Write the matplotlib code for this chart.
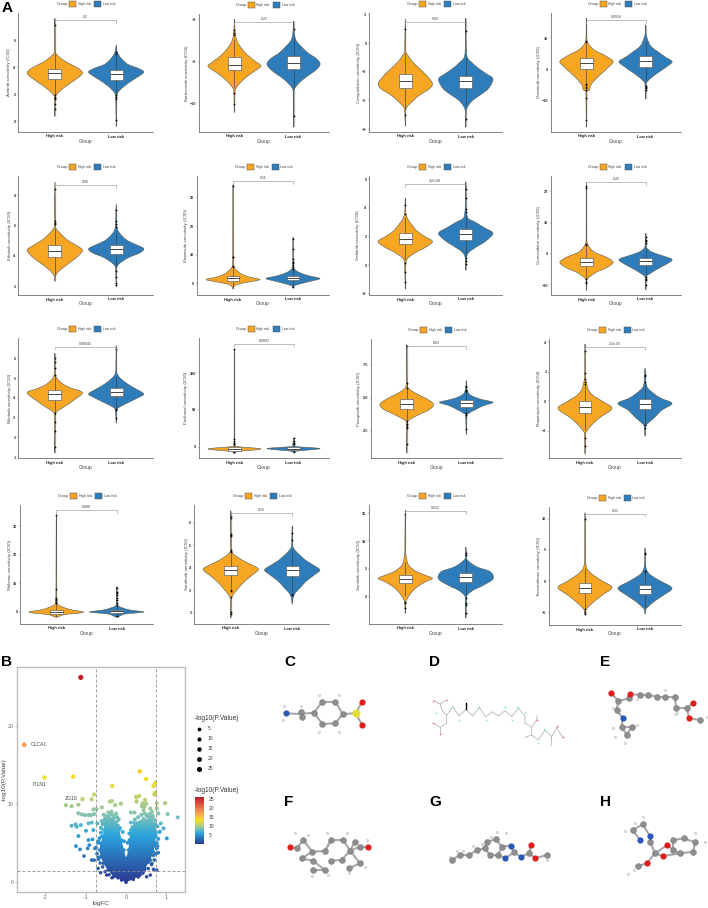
import numpy as np
import matplotlib
matplotlib.use("Agg")
import matplotlib.pyplot as plt
from matplotlib.colors import LinearSegmentedColormap
from matplotlib.patches import Polygon, Rectangle
from matplotlib.path import Path
from matplotlib.patches import PathPatch

plt.rcParams["font.family"] = ["Liberation Sans", "DejaVu Sans"]

W, H = 708, 908
ORANGE = "#F6A623"
BLUE = "#2E7CB9"

# ---- panel A data ----
drugs = ["Axitinib", "Bortezomib", "Camptothecin", "Dasatinib",
         "Erlotinib", "Etoposide", "Gefitinib", "Gemcitabine",
         "Nilotinib", "Paclitaxel", "Pazopanib", "Rapamycin",
         "Shikonin", "Sorafenib", "Sunitinib", "Temsirolimus"]
p_labels = ["0.2", "0.21", "0.99", "0.0016", "0.06", "0.11", "4.2e-06", "0.26",
            "0.00043", "0.0083", "0.03", "2.1e-05", "0.088", "0.15", "0.032", "0.31"]
y_ticks = [[0, 2, 4, 6], [-10, -6, -2], [-9, -6, -3, 0, 3], [-10, 0, 10],
           [2, 4, 6, 8], [0, 10, 20, 30], [-2, 0, 2, 4, 6], [-10, 0, 10, 20],
           [1, 2, 3, 4, 5, 6], [0, 50, 100], [2.5, 5.0, 7.5], [-2, 0, 2, 4],
           [0, 10, 20, 30], [2, 3, 4, 5, 6], [0, 5, 10, 15], [-5, 0, 5, 10]]
y_lims = [(-0.81, 8.0), (-12.65, -1.5), (-9.3, 3.14), (-19.9, 18.1),
          (1.43, 9.27), (-4.2, 37.6), (-2.09, 6.23), (-13.2, 24.9),
          (0.95, 7.04), (-15.5, 148), (0.41, 9.46), (-3.84, 4.23),
          (-4.3, 37.5), (1.51, 6.78), (-4.9, 16.5), (-7.0, 11.85)]
bracket_y = [7.45, -2.3, 2.23, 15.85, 8.65, 35.7, 5.65, 22.9,
             6.6, 140, 8.9, 3.68, 35.6, 6.43, 15.4, 10.8]

high_box = [(3.11, 3.58, 3.88), (-6.75, -6.3, -5.6), (-4.7, -4.0, -3.25), (0.3, 2.1, 3.6),
            (3.93, 4.3, 4.7), (0.8, 1.6, 2.45), (1.47, 1.8, 2.23), (-4.0, -2.55, -1.4),
            (3.9, 4.2, 4.4), (-6, -3.2, -0.5), (4.1, 4.5, 4.87), (-0.77, -0.41, 0.0),
            (-0.7, 0.0, 0.7), (3.68, 3.9, 4.07), (2.45, 3.23, 3.95), (-1.9, -1.06, -0.3)]
low_box = [(3.06, 3.45, 3.75), (-6.7, -6.1, -5.5), (-4.67, -3.95, -3.4), (1.0, 2.65, 4.25),
           (4.12, 4.47, 4.7), (1.15, 1.9, 2.6), (1.75, 2.14, 2.5), (-3.6, -2.34, -1.4),
           (4.1, 4.3, 4.5), (-5, -2.7, -0.5), (4.3, 4.62, 4.85), (-0.5, -0.18, 0.18),
           (-0.5, 0.1, 0.5), (3.62, 3.91, 4.09), (2.6, 3.5, 4.3), (-2.0, -1.2, -0.6)]

high_y = [[.35, 1.7, 2.0, 2.5, 3.0, 3.35, 3.6, 3.9, 4.3, 4.6, 5.0, 5.4, 7.6],
          [-10.8, -9, -8.5, -7.8, -7.2, -6.8, -6.4, -6, -5.4, -4.8, -4.2, -3.65, -3, -2],
          [-8.65, -7.2, -6.7, -6, -5.4, -4.8, -4.25, -3.6, -3, -2.4, -1.8, -1.3, -.9, 2.55],
          [-18.3, -7, -6.4, -5, -3, -1, 1, 2.65, 4.5, 6, 7.4, 9.5, 16.5],
          [2.33, 2.7, 3.0, 3.4, 3.8, 4.1, 4.4, 4.7, 5, 5.3, 5.8, 6.2, 8.9],
          [-2.1, -1.5, -.5, .3, 1.2, 2, 3, 4, 5, 5.8, 8, 34.6],
          [-1.67, .1, .5, .9, 1.25, 1.65, 2, 2.4, 2.8, 3.2, 3.65, 4.67],
          [-11.7, -8.5, -7.8, -6, -4.5, -2.7, -1, .5, 2, 3.4, 5, 22.9],
          [1.2, 3.1, 3.3, 3.6, 3.9, 4.27, 4.5, 4.7, 4.95, 5.15, 5.5, 6.27],
          [-8.7, -6.5, -3.2, 0, 2, 10, 133],
          [.8, 3.1, 3.3, 3.7, 4.1, 4.5, 4.9, 5.2, 5.5, 5.75, 6.2, 9.03],
          [-3.55, -2.2, -2, -1.6, -1.1, -.48, 0, .4, .8, 1.15, 1.6, 3.9],
          [-1.9, -1, -.2, .8, 2, 3, 8, 34],
          [1.78, 2.6, 2.8, 3.1, 3.4, 3.7, 3.94, 4.15, 4.35, 4.65, 5, 6.53],
          [-3, -.8, -.5, .5, 1.7, 2.7, 3.3, 3.9, 4.6, 5.7, 7.1, 8, 15.6],
          [-5.35, -4.6, -4.3, -3.2, -2.2, -1, 0, 1, 1.8, 2.6, 3.5, 10.95]]
high_w = [[0, .02, .07, .35, .7, .93, 1, .85, .48, .25, .04, .015, 0],
          [0, .02, .06, .3, .58, .82, 1, .8, .5, .28, .12, .05, .02, 0],
          [0, .015, .06, .3, .55, .88, 1, .85, .65, .42, .22, .1, .02, 0],
          [0, .02, .12, .16, .35, .6, .85, 1, .7, .35, .15, .02, 0],
          [0, .03, .15, .42, .72, .9, 1, .78, .5, .3, .05, .02, 0],
          [0, .02, .15, .55, 1, .65, .35, .2, .08, .03, .01, 0],
          [0, .02, .1, .4, .75, 1, .72, .42, .25, .1, .02, 0],
          [0, .015, .06, .35, .75, 1, .72, .3, .12, .03, .01, 0],
          [0, .02, .07, .4, .7, 1, .58, .3, .1, .03, .01, 0],
          [0, .15, 1, .12, .03, .01, 0],
          [0, .02, .08, .45, .85, 1, .75, .45, .2, .05, .015, 0],
          [0, .02, .07, .25, .55, 1, .65, .3, .12, .07, .015, 0],
          [0, .3, 1, .5, .15, .03, .01, 0],
          [0, .02, .08, .28, .5, .8, 1, .72, .4, .06, .015, 0],
          [0, .02, .06, .18, .42, .75, 1, .72, .38, .12, .04, .015, 0],
          [0, .03, .08, .35, .65, 1, .65, .3, .1, .03, .01, 0]]
low_y = [[-.4, 1.6, 2.1, 2.6, 3.1, 3.4, 3.65, 3.9, 4.2, 4.6, 5.0, 5.3, 5.6],
         [-12.2, -9, -8.5, -7.8, -7.2, -6.7, -6.2, -5.7, -5.2, -4.6, -4.1, -3.65, -3, -2.15],
         [-8.8, -7.2, -6.7, -6, -5.3, -4.7, -3.75, -3.2, -2.6, -2.1, -1.45, 0, 2.6],
         [-9.4, -4.5, -3.7, -2, -.5, 1, 2.55, 4, 5.5, 7.5, 9.8, 11.5, 14.4],
         [2, 3.2, 3.5, 3.9, 4.2, 4.47, 4.7, 5, 5.3, 5.6, 5.9, 6.3, 7.42],
         [-1.75, -1, -.2, .7, 1.6, 2.5, 3.5, 4.5, 5.3, 7, 16.1],
         [-.37, .5, .9, 1.3, 1.7, 2.23, 2.6, 3, 3.3, 4, 5.84],
         [-11.5, -7.5, -6.9, -5, -3.5, -1.9, -.8, .5, 1.8, 3, 6.6],
         [2.73, 3.3, 3.5, 3.75, 4, 4.2, 4.45, 4.7, 5, 5.25, 5.6, 6.65],
         [-8, -6, -2.7, 0, 2, 12],
         [2.2, 3.6, 3.8, 4.1, 4.4, 4.64, 4.85, 5.05, 5.3, 5.7, 6.3],
         [-2.36, -1.7, -1.5, -1.1, -.6, -.14, .2, .5, .9, 1.3, 1.6, 2.25],
         [-1.9, -.8, -.1, .6, 1.4, 2.2, 4, 8.9],
         [2.41, 2.66, 2.9, 3.1, 3.4, 3.7, 3.91, 4.15, 4.4, 4.87, 5.3, 5.86],
         [-3.8, -.2, .35, 1.2, 2, 3.2, 4.5, 5.4, 6.65, 7.5, 8.9],
         [-5.2, -4.6, -4.3, -3.2, -2.2, -1.1, 0, 1, 1.8, 3, 5.35]]
low_w = [[0, .015, .06, .3, .65, .88, 1, .8, .42, .2, .06, .02, 0],
         [0, .015, .05, .3, .62, .88, 1, .85, .55, .3, .12, .05, .015, 0],
         [0, .015, .06, .25, .6, .85, 1, .75, .45, .25, .05, .01, 0],
         [0, .02, .07, .3, .55, .8, 1, .75, .5, .2, .07, .015, 0],
         [0, .02, .12, .45, .85, 1, .78, .42, .22, .09, .03, .02, 0],
         [0, .05, .3, .68, 1, .6, .28, .1, .03, .01, 0],
         [0, .02, .12, .42, .75, 1, .7, .35, .08, .02, 0],
         [0, .015, .07, .42, .75, 1, .7, .25, .05, .015, 0],
         [0, .02, .08, .42, .78, 1, .72, .42, .15, .03, .01, 0],
         [0, .15, 1, .12, .03, 0],
         [0, .02, .08, .35, .65, 1, .6, .3, .1, .02, 0],
         [0, .03, .1, .35, .62, 1, .6, .35, .1, .03, .03, 0],
         [0, .3, 1, .5, .2, .03, .01, 0],
         [0, .03, .12, .28, .5, .82, 1, .72, .42, .05, .015, 0],
         [0, .02, .06, .28, .62, 1, .9, .4, .05, .02, 0],
         [0, .02, .06, .35, .7, 1, .58, .2, .06, .015, 0]]

high_out = [[7.1, 1.9, 1.8, 1.7, 1.6, 1.25, .9], [-3.0, -3.3, -3.5, -9.0, -10.0], [1.5, -7.5],
            [9.2, 8.8, -4.7, -5, -5.5, -6, -6.4, -9, -16], [8.4, 6.3, 6.2, 6.1],
            [34.2, 9.3, 9, 6, 5.5], [4.2, 3.6, .15, -.5, -1.2], [21.8, 21, 3.2, 2.8, -8, -9, -9.5],
            [6.0, 5.8, 5.5, 5.15, 3.25, 2.8, 2.3, 1.5], [133, 10, 7, 5, 3, -8],
            [8.9, 6.1, 5.7, 3.2, 3, 2.9, 2.8, 2.7, 1.5], [3.4, 1.9, 1.5, 1.3, 1.2, -2.5, -3],
            [34, 8, 5, 4.5, 4, 3.5, 3], [6.3, 6.2, 5.5, 5.45, 5.4, 4.8, 4.75, 4.7, 3, 2.95, 2.7, 2.05, 1.95],
            [14.8, -1, -1.2, -2], [10, -4.5, -5, -5.2]]
low_out = [[5.1, 4.95, 1.9, 1.75, 1.6, .1], [-2.9, -11.1], [1.3, -7.9], [-5.2, -5.6, -6, -6.4],
           [7.0, 6.3, 6.1, 5.9, 3.0, 2.6, 2.2, 2.1], [15.3, 11.8, 8.5, 7.5, 7, 6.3, 5.5, 5, -1.3],
           [5.3, 4.7, 3.9, 3.7, .5, .3, .1], [5.3, 4.5, 4, 3.6, -7.3, -8, -8.5, -10],
           [6.5, 3.45, 3.4, 3], [12, 8, 5, 3, -7], [5.9, 5.8, 5.6, 5.5, 3.8, 3.7, 2.6],
           [1.8, 1.7, 1.3, -1.6, -1.8], [8.5, 7, 6.5, 6, 5, 4, 3, 2.5, -1.5], [5.55, 5.25, 2.85, 2.8],
           [7.8, 7.5, -.3, -1.2, -1.5, -3], [4.5, 4.3, 1.7, 1.6]]

# left, right, top, bottom of each violin panel, in picture pixels
panel_boxes = [(18, 153, 13, 132), (199, 329, 14, 132), (369, 502, 13, 132), (551, 681, 13, 132),
               (18, 153, 176, 295), (197, 329, 176, 295), (369, 502, 176, 295), (551, 681, 176, 295),
               (18, 153, 338, 458), (199, 329, 338, 458), (371, 502, 339, 458), (549, 681, 339, 458),
               (20, 153, 505, 624), (194, 329, 505, 624), (369, 502, 505, 624), (549, 681, 507, 625)]
ylabel_gap = [8.7, 12.3, 9.7, 12, 8, 11, 11, 12, 8, 13, 12, 10, 10, 7, 10, 10]

# ---- panel B data ----
vol_fc = [-1.12, -2.52, -2.02, -1.31, .34, .50, .72, .68, -.34,
          -1.08, -.85, -.79, -1.49, -1.35, -1.18, -1.18, -1.10, -1.02, -.93, -.87, -.79,
          -.81, -.73, -.60, -.40, -.35, -.27, -.13, .26, .33, .25, .26,
          .47, .41, .50, .39, .45, .60, .43, .64, .72, .70, .76, .76, .97, 1.03, 1.28, .80, .12, .21,
          -1.35, -1.25, -1.22, -1.12, -.93, -.99, -1.18, -.81, -.85, -.71,
          -.83, -.93, -.91, -1.24, -1.14, -1.04, -.95, -.85, -.79, -.77, -.69, -.69, -.63, -.48,
          .86, .93, .84, 1.01, .76, .76, .80, .64, .76, .68, .60, .51,
          -.60, -.52, -.45, -.30, -.62, -.50, -.68, -.60, -.55, -.40, -.20, .30, .45, .55, .68, .74, .70,
          .65, .58, .72, .50,
          -.55, -.48, -.44, -.38, -.36, -.30, -.25, -.22, -.18, -.52, -.42, -.33, -.27, -.20, -.15, -.58,
          -.62, -.66, -.70, -.74, -.72, -.68, -.64, -.58, -.52, -.42, -.35,
          .22, .30, .38, .46, .52, .58, .66, .72, .78, .82, .80, .78, .74, .70, .63, .55, .42, .30,
          .16, .12, .08, -.08, -.05, .04]
vol_p = [26.26, 17.6, 13.4, 13.5, 14.2, 13.2, 12.7, 12.3, 12.3,
         10.6, 10.6, 11.2, 9.85, 9.7, 9.9, 8.8, 8.65, 8.57, 8.57, 8.57, 8.7,
         9.3, 9.34, 9.55, 10.3, 10.37, 9.85, 10.03, 10.84, 11.05, 10.9, 10.3,
         10.5, 10.07, 10.0, 9.7, 9.64, 9.4, 9.2, 9.0, 11.44, 11.2, 10.07, 9.43, 10.1, 8.7, 8.27, 8.78, 8.9, 8.9,
         7.2, 7.37, 7.07, 7.28, 7.5, 6.55, 5.87, 6.64, 7.6, 7.5,
         5.44, 5.36, 4.71, 4.58, 4.16, 3.3, 4.28, 2.78, 2.78, 4.28, 3.13, 1.71, 1.16, .86,
         7.5, 6.86, 6.43, 5.57, 5.0, 4.28, 3.73, 2.36, 1.5, 1.59, .86, .64,
         7.8, 8.1, 8.3, 8.2, 6.9, 7.2, 5.2, 5.8, 3.6, 1.6, .5, .7, 1.4, 2.5, 3.4, 5.8, 4.6,
         8.5, 8.7, 7.4, 8.6,
         8.6, 8.4, 8.9, 8.7, 9.0, 8.5, 8.75, 8.3, 8.0, 7.9, 7.7, 7.9, 7.4, 7.2, 6.9, 7.4,
         6.3, 5.6, 5.0, 4.4, 3.6, 2.9, 2.4, 1.9, 1.3, .9, .5,
         8.0, 8.3, 8.6, 8.8, 8.4, 8.2, 8.3, 7.9, 7.1, 6.4, 5.5, 4.6, 3.6, 2.8, 2.2, 1.7, 1.1, .6,
         7.0, 7.6, 6.2, 6.4, 5.2, 5.0]
# outline of the dense V shaped cloud of points
core_fc = [0, -.11, -.31, -.45, -.56, -.63, -.66, -.63, -.58, -.55, -.55, -.44, -.40, -.23, -.165, -.11, -.05, 0,
           .06, .08, .115, .2, .43, .64, .74, .74, .72, .68, .6, .47, .35, .18, 0]
core_p = [-.05, .2, .64, 1.5, 2.36, 3.2, 4.07, 4.9, 5.8, 6.64, 7.5, 8.14, 8.44, 7.7, 6.64, 5.36, 4.07, 3.0,
          4.07, 5.36, 6.64, 7.58, 8.14, 8.0, 7.28, 6.2, 4.93, 3.86, 2.78, 1.71, .86, .3, -.05]
size_legend = [5, 10, 15, 20, 25]
color_ticks = [5, 10, 15, 20, 25]
color_levels = [0, 3, 6, 8.5, 10.5, 13.3, 17.6, 26.3]
color_stops = ["#2B3A92", "#2A6EB6", "#2AA5DE", "#7FC2B4", "#B8CF78", "#F7E01F", "#F89C55", "#BE1E2D"]

# ---- molecules, in zoom pixels of the lower right block ----
mol_letters = ["C", "D", "E", "F", "G", "H"]
mol_letter_x = [72, 507, 1020, 72, 507, 1020]
mol_letter_y = [65, 65, 65, 485, 485, 485]

carbon_x = [162, 187, 226, 248, 226, 187, 122, 126,
            1075, 1107, 1140, 1165, 1190, 1215, 1245, 1248, 1280, 1320, 1070, 1085, 1115, 1100,
            110, 130, 157, 195, 213, 250, 270, 300, 285, 125, 158, 195, 158, 213, 245, 267, 300,
            575, 600, 628, 650, 675, 680, 708, 725, 715, 690, 762, 808, 860,
            1118, 1148, 1170, 1185, 1135, 1240, 1240, 1272, 1305, 1300, 1260]
carbon_y = [218, 185, 185, 222, 250, 252, 215, 230,
            183, 175, 165, 165, 170, 170, 172, 205, 205, 240, 210, 260, 260, 285,
            625, 600, 635, 633, 600, 600, 632, 620, 605, 655, 662, 690, 690, 662, 660, 685, 670,
            660, 645, 645, 630, 625, 605, 598, 620, 645, 645, 637, 640, 645,
            570, 553, 605, 640, 678, 630, 600, 595, 607, 635, 640]
oxygen_x = [306, 306, 1052, 1110, 1300, 1288, 325, 90, 812, 825, 1160, 1222, 1210]
oxygen_y = [186, 254, 158, 162, 188, 235, 622, 622, 615, 655, 670, 615, 648]
nitrogen_x = [78, 1088, 752, 735, 782, 1140, 1170]
nitrogen_y = [220, 234, 617, 655, 650, 600, 588]
sulfur_x = [287]
sulfur_y = [220]
hydrogen_x = [72, 70, 122, 178, 237, 178, 238, 1060, 1130, 1215, 1250, 1245, 1340, 1060, 1065, 1130, 1095,
              105, 145, 200, 262, 320, 155, 205, 268, 315, 280,
              570, 590, 610, 640, 665, 692, 712, 738, 860, 1148, 1095, 1125, 1335, 1122, 1105, 1305]
hydrogen_y = [198, 240, 197, 165, 165, 277, 277, 205, 178, 150, 218, 222, 232, 265, 290, 255, 308,
              578, 585, 580, 580, 600, 708, 705, 700, 680, 640,
              652, 632, 632, 618, 612, 590, 575, 578, 660, 532, 572, 550, 607, 690, 703, 580]
bond_x0 = [162, 187, 226, 248, 226, 187, 162, 122, 248, 287, 287,
           1052, 1075, 1107, 1110, 1140, 1165, 1190, 1215, 1245, 1248, 1280, 1280, 1288, 1075, 1070, 1088, 1085, 1115, 1100,
           90, 110, 130, 157, 195, 213, 250, 270, 270, 300, 157, 125, 158, 195, 213, 213, 245, 267, 300,
           575, 600, 628, 650, 675, 680, 708, 725, 715, 690, 725, 752, 762, 735, 762, 782, 808, 808, 825,
           1118, 1148, 1140, 1170, 1170, 1185, 1185, 1185, 1160, 1222, 1210, 1240, 1240, 1272, 1305, 1300, 1260]
bond_y0 = [218, 185, 185, 222, 250, 252, 218, 222, 222, 220, 220,
           158, 183, 175, 162, 165, 165, 170, 170, 172, 205, 205, 205, 235, 183, 210, 234, 260, 260, 285,
           622, 625, 600, 635, 633, 600, 600, 632, 632, 620, 635, 655, 662, 690, 600, 662, 660, 685, 670,
           660, 645, 645, 630, 625, 605, 598, 620, 645, 645, 620, 617, 637, 655, 637, 650, 640, 640, 655,
           570, 553, 600, 588, 605, 640, 640, 640, 670, 615, 648, 630, 600, 595, 607, 635, 640]
bond_x1 = [187, 226, 248, 226, 187, 162, 122, 78, 287, 306, 306,
           1075, 1107, 1110, 1140, 1165, 1190, 1215, 1245, 1248, 1280, 1300, 1288, 1320, 1070, 1088, 1085, 1115, 1100, 1085,
           110, 130, 157, 195, 213, 250, 270, 300, 285, 325, 125, 158, 195, 158, 195, 245, 270, 300, 270,
           600, 628, 650, 675, 680, 708, 725, 715, 690, 675, 752, 762, 735, 715, 782, 808, 812, 825, 860,
           1148, 1170, 1118, 1170, 1185, 1160, 1222, 1210, 1135, 1240, 1260, 1240, 1272, 1305, 1300, 1260, 1240]
bond_y1 = [185, 185, 222, 250, 252, 218, 222, 220, 220, 186, 254,
           183, 175, 162, 165, 165, 170, 170, 172, 205, 205, 188, 235, 240, 210, 234, 260, 260, 285, 260,
           625, 600, 635, 633, 600, 600, 632, 620, 605, 622, 655, 662, 690, 690, 633, 660, 632, 670, 632,
           645, 645, 630, 625, 605, 598, 620, 645, 645, 625, 617, 637, 655, 645, 650, 640, 615, 655, 645,
           553, 588, 570, 605, 640, 670, 615, 648, 678, 630, 640, 600, 595, 607, 635, 640, 630]

# stick model D: chains as polylines
stick_x = [[560, 560, 578, 597, 618, 638, 658, 677, 697, 715, 735, 755, 775, 795, 795, 815, 815, 835, 855, 875, 890, 908],
           [560, 548, 540, 522], [540, 558], [560, 540, 522], [540, 540], [815, 830, 832],
           [815, 795], [875, 873], [890, 890]]
stick_y = [[250, 225, 200, 228, 208, 228, 203, 230, 215, 228, 212, 230, 205, 228, 250, 260, 285, 300, 270, 290, 262, 292],
           [225, 215, 192, 182], [192, 181], [250, 262, 250], [262, 280], [260, 240, 225],
           [285, 292], [290, 318], [262, 258]]
d_red_x = [520, 560, 520, 540, 830, 910, 890]
d_red_y = [182, 181, 250, 283, 240, 292, 258]
d_cyan_x = [527, 578, 597, 658, 677, 735, 755, 775, 795, 852, 833]
d_cyan_y = [220, 200, 240, 200, 240, 200, 240, 200, 217, 268, 308]

fig = plt.figure(figsize=(W / 100, H / 100), dpi=100)


def px_axes(l, r, t, b, **kw):
    return fig.add_axes([l / W, 1 - b / H, (r - l) / W, (b - t) / H], **kw)


def outline(pts):
    # closed smooth curve through the read knots
    n = len(pts)
    verts, codes = [pts[0]], [Path.MOVETO]
    tang = []
    for i in range(n):
        m = (pts[(i + 1) % n] - pts[i - 1]) / 6
        gap = min(abs(pts[(i + 1) % n][1] - pts[i][1]), abs(pts[i][1] - pts[i - 1][1]))
        if abs(m[1]) > gap / 2:
            m = m * (gap / 2) / abs(m[1])
        tang.append(m)
    for i in range(n):
        j = (i + 1) % n
        verts += [pts[i] + tang[i], pts[j] - tang[j], pts[j]]
        codes += [Path.CURVE4] * 3
    return Path(verts, codes)


def violin(ax, pos, ys, ws, box, outs, color):
    half = np.array(ws) * 0.45
    ys = np.array(ys)
    pts = np.r_[np.c_[pos - half, ys], np.c_[pos + half, ys][-2:0:-1]]
    ax.plot([pos, pos], [ys[0], ys[-1]], color="#bdbdbd", lw=0.9, zorder=1, solid_capstyle="butt")
    ax.add_patch(PathPatch(outline(pts), fc=color, ec="#5a5a4e", lw=0.4, zorder=2))
    # box whiskers at 1.5 IQR
    iqr = box[2] - box[0]
    lo, up = max(box[0] - 1.5 * iqr, ys[0]), min(box[2] + 1.5 * iqr, ys[-1])
    ax.plot([pos, pos], [lo, up], color="#3c3c34", lw=0.45, zorder=3, solid_capstyle="butt")
    ax.scatter([pos] * len(outs), outs, s=1.6, color="black", lw=0, zorder=4)
    ax.add_patch(Rectangle((pos - 0.105, box[0]), 0.21, box[2] - box[0], fc="white",
                           ec="#666666", lw=0.5, zorder=5))
    ax.plot([pos - 0.105, pos + 0.105], [box[1], box[1]], color="#444444", lw=0.7, zorder=6,
            solid_capstyle="butt")


for i, drug in enumerate(drugs):
    l, r, t, b = panel_boxes[i]
    ax = px_axes(l, r, t, b)
    ax.set_xlim(0.4, 2.6)
    ax.set_ylim(*y_lims[i])
    violin(ax, 1, high_y[i], high_w[i], high_box[i], high_out[i], ORANGE)
    violin(ax, 2, low_y[i], low_w[i], low_box[i], low_out[i], BLUE)
    for s in ("top", "right"):
        ax.spines[s].set_visible(False)
    for s in ("left", "bottom"):
        ax.spines[s].set_linewidth(0.6)
        ax.spines[s].set_color("#707070")
    ax.set_xticks([1, 2])
    ax.set_xticklabels(["High risk", "Low risk"], fontsize=2.9, fontweight="bold", color="#222222")
    ax.set_yticks(y_ticks[i])
    ax.set_yticklabels([f"{v:.1f}" if isinstance(v, float) else str(v).replace("-", "\u2212") for v in y_ticks[i]],
                       fontsize=2.8, fontweight="bold", color="#333333")
    ax.tick_params(length=1, width=0.35, pad=0.8, color="#707070")
    ax.set_xlabel("Group", fontsize=3.5, color="#444444")
    ax.set_ylabel(f"{drug} sensitivity (IC50)", fontsize=3.2, color="#444444")
    ax.xaxis.set_label_coords(0.5, -9.0 / (b - t), transform=ax.transAxes)
    ax.xaxis.label.set_va("center")
    ax.yaxis.set_label_coords(-ylabel_gap[i] / (r - l), 0.5, transform=ax.transAxes)
    ax.yaxis.label.set_va("center")
    # significance bracket
    y0, y1 = y_lims[i]
    drop = (y1 - y0) * 2.6 / (b - t)
    ax.plot([1, 1, 2, 2], [bracket_y[i] - drop, bracket_y[i], bracket_y[i], bracket_y[i] - drop],
            color="#9a9a9a", lw=0.45, zorder=7)
    ax.text(1.5, bracket_y[i] + drop * 0.4, p_labels[i], ha="center", va="bottom", fontsize=2.6, color="#444444")

# overlay for legends and letters, in picture pixels
ov = fig.add_axes([0, 0, 1, 1], zorder=10)
ov.set_xlim(0, W)
ov.set_ylim(H, 0)
ov.axis("off")
ov.patch.set_alpha(0)
for l, r, t, b in panel_boxes:
    cx = (l + r) / 2
    ly = t - 9
    ov.text(cx - 28.5, ly, "Group", fontsize=3.0, ha="left", va="center", color="#444444")
    ov.add_patch(Rectangle((cx - 16.2, ly - 3.3), 7, 6.6, fc=ORANGE, ec="#555555", lw=0.35))
    ov.text(cx - 7.5, ly, "High risk", fontsize=2.4, ha="left", va="center", color="#444444")
    ov.add_patch(Rectangle((cx + 8.5, ly - 3.3), 7, 6.6, fc=BLUE, ec="#555555", lw=0.35))
    ov.text(cx + 17.5, ly, "Low risk", fontsize=2.4, ha="left", va="center", color="#444444")
ov.text(1.5, 8, "A", fontsize=11, fontweight="bold", ha="left", va="center", color="black")
ov.text(1.5, 662, "B", fontsize=11, fontweight="bold", ha="left", va="center", color="black")

# panel B volcano
cmap = LinearSegmentedColormap.from_list(
    "vol", [(v / color_levels[-1], c) for v, c in zip(color_levels, color_stops)])
vax = px_axes(17, 185, 667, 892)
vax.set_xlim(-2.70, 1.46)
vax.set_ylim(-1.32, 27.6)
ramp = np.linspace(0, 1, 256).reshape(-1, 1)
im = vax.imshow(ramp, origin="lower", aspect="auto", cmap=cmap,
                extent=(-2.7, 1.46, 0, color_levels[-1]), zorder=2)
core = Polygon(np.c_[core_fc, core_p], closed=True, fc="none", ec="none", transform=vax.transData)
vax.add_patch(core)
im.set_clip_path(core)
vax.set_xlim(-2.70, 1.46)
vax.set_ylim(-1.32, 27.6)
vol_p_arr = np.array(vol_p)
vax.scatter(vol_fc, vol_p, c=vol_p, cmap=cmap, vmin=0, vmax=color_levels[-1],
            s=6 + vol_p_arr * 0.3, lw=0, zorder=3)
vax.scatter(core_fc, core_p, c=core_p, cmap=cmap, vmin=0, vmax=color_levels[-1], s=6, lw=0, zorder=3)
for xv in (-0.744, 0.744):
    vax.axvline(xv, color="#8c8c8c", lw=0.6, ls=(0, (3.5, 2.5)), zorder=4)
vax.axhline(1.33, color="#8c8c8c", lw=0.6, ls=(0, (3.5, 2.5)), zorder=4)
for s in vax.spines.values():
    s.set_color("#bdbdbd")
    s.set_linewidth(1.0)
vax.set_xticks([-2, -1, 0, 1])
vax.set_xticklabels(["-2", "-1", "0", "1"], fontsize=3.8, color="#666666")
vax.set_yticks([0, 10, 20])
vax.set_yticklabels(["0", "10", "20"], fontsize=3.8, color="#666666")
vax.tick_params(length=1.2, width=0.4, pad=1, color="#888888")
vax.set_xlabel("logFC", fontsize=4.6, color="#444444")
vax.set_ylabel("-log10(P.Value)", fontsize=4.6, color="#444444")
vax.xaxis.set_label_coords(0.5, -11.0 / 225, transform=vax.transAxes)
vax.xaxis.label.set_va("center")
vax.yaxis.set_label_coords(-13.0 / 168, 0.5, transform=vax.transAxes)
vax.yaxis.label.set_va("center")
vax.text(-2.36, 17.6, "CLCA1", fontsize=3.7, ha="left", va="center", color="#444444")
vax.text(-2.32, 12.55, "ITLN1", fontsize=3.7, ha="left", va="center", color="#444444", zorder=5)
vax.text(-1.52, 10.65, "ZG16", fontsize=3.7, ha="left", va="center", color="#444444", zorder=5)

# volcano legends
ov.text(195, 719, "-log10(P.Value)", fontsize=4.8, ha="left", va="center", color="#333333")
for k, v in enumerate(size_legend):
    yy = 729 + k * 9.9
    ov.scatter([199], [yy], s=6 + v * 0.3, color="black", lw=0)
    ov.text(208, yy, str(v), fontsize=3.6, ha="left", va="center", color="#444444")
ov.text(195, 790, "-log10(P.Value)", fontsize=4.8, ha="left", va="center", color="#333333")
cax = px_axes(195, 204, 796, 844)
cax.imshow(ramp, origin="lower", aspect="auto", cmap=cmap, extent=(0, 1, 0, color_levels[-1]))
cax.set_ylim(0, color_levels[-1] + 0.6)
cax.set_xticks([])
cax.set_yticks(color_ticks)
cax.yaxis.tick_right()
cax.set_yticklabels([str(v) for v in color_ticks], fontsize=3.6, color="#444444")
cax.tick_params(length=0, pad=3.5)
for s in cax.spines.values():
    s.set_visible(False)

# molecules
mol = px_axes(260, 708, 640, 908)
mol.set_xlim(0, 1344)
mol.set_ylim(804, 0)
mol.axis("off")
mol.patch.set_alpha(0)
for x0, y0, x1, y1 in zip(bond_x0, bond_y0, bond_x1, bond_y1):
    mol.plot([x0, x1], [y0, y1], color="#a8a8a8", lw=1.5, zorder=1, solid_capstyle="round")
for xs, ys in zip(stick_x, stick_y):
    mol.plot(xs, ys, color="#a9a9a9", lw=0.5, zorder=1)
mol.plot([618, 618], [208, 190], color="black", lw=1.0, zorder=2)
mol.scatter(d_red_x, d_red_y, s=1.4, color="#F26A6A", lw=0, zorder=2)
mol.scatter(d_cyan_x, d_cyan_y, s=1.4, color="#7FD8DC", lw=0, zorder=2)
mol.scatter(hydrogen_x, hydrogen_y, s=4, color="#dcdcdc", edgecolors="#bbbbbb", lw=0.2, zorder=2)
mol.scatter(carbon_x, carbon_y, s=18, color="#8e8e8e", edgecolors="#6e6e6e", lw=0.3, zorder=3)
mol.scatter(oxygen_x, oxygen_y, s=20, color="#E01E1E", lw=0, zorder=4)
mol.scatter(nitrogen_x, nitrogen_y, s=20, color="#2B57B5", lw=0, zorder=4)
mol.scatter(sulfur_x, sulfur_y, s=34, color="#E3DC3A", lw=0, zorder=4)
for t, x, y in zip(mol_letters, mol_letter_x, mol_letter_y):
    mol.text(x, y, t, fontsize=11, fontweight="bold", ha="left", va="center", color="black")

fig.savefig("out.png", dpi=100, facecolor="white")
